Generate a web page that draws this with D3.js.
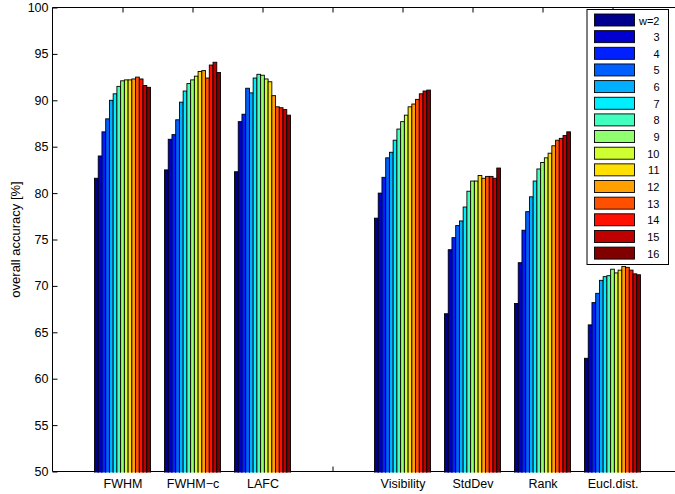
<!DOCTYPE html>
<html>
<head>
<meta charset="utf-8">
<script src="https://cdn.jsdelivr.net/npm/d3@7"></script>
<style>
  body { margin: 0; background: #fff; }
  svg { display: block; font-family: "Liberation Sans", Arial, Helvetica, sans-serif; }
</style>
</head>
<body>
<svg id="chart" width="675" height="494"></svg>
<script>
// Method groups along the x axis (the blank slot separates the two families)
const categories = ["FWHM", "FWHM\u2212c", "LAFC", "", "Visibility", "StdDev", "Rank", "Eucl.dist."];

// Window sizes w = 2 .. 16
const seriesNames = ["w=2", "3", "4", "5", "6", "7", "8", "9", "10", "11", "12", "13", "14", "15", "16"];

// Overall accuracy [%] per method, one value per window size
const fwhm       = [81.6, 84.0, 86.6, 88.0, 90.0, 90.7, 91.5, 92.1, 92.2, 92.2, 92.3, 92.5, 92.3, 91.6, 91.4];
const fwhmC      = [82.5, 85.8, 86.3, 87.9, 89.8, 91.0, 91.8, 92.2, 92.6, 93.1, 93.2, 92.4, 93.8, 94.1, 93.0];
const lafc       = [82.3, 87.7, 88.5, 91.3, 90.8, 92.4, 92.8, 92.7, 92.3, 92.0, 90.5, 89.3, 89.2, 89.0, 88.4];
const visibility = [77.3, 80.0, 81.7, 83.8, 84.4, 85.7, 86.9, 87.7, 88.4, 89.3, 89.6, 90.1, 90.7, 91.0, 91.1];
const stdDev     = [67.0, 73.9, 75.2, 76.5, 77.0, 78.5, 80.2, 81.3, 81.3, 81.9, 81.6, 81.8, 81.8, 81.6, 82.7];
const rank       = [68.1, 72.5, 76.0, 78.0, 79.6, 81.3, 82.6, 83.3, 83.8, 84.3, 85.1, 85.7, 85.9, 86.2, 86.6];
const euclDist   = [62.2, 65.8, 68.2, 69.2, 70.6, 71.0, 71.1, 71.8, 71.4, 71.7, 72.1, 72.0, 71.7, 71.3, 71.2];

const groupValues = [fwhm, fwhmC, lafc, null, visibility, stdDev, rank, euclDist];

const yTicks = [50, 55, 60, 65, 70, 75, 80, 85, 90, 95, 100];

// Colours sampled from the 64-entry jet map at evenly spaced indices
const barColors = [
  "rgb(0,0,143)", "rgb(0,0,207)", "rgb(0,32,255)", "rgb(0,96,255)", "rgb(0,175,255)",
  "rgb(0,239,255)", "rgb(64,255,191)", "rgb(143,255,112)", "rgb(207,255,48)", "rgb(255,223,0)",
  "rgb(255,159,0)", "rgb(255,80,0)", "rgb(255,16,0)", "rgb(191,0,0)", "rgb(128,0,0)"
];

const svg = d3.select("#chart");
const plotLeft = 52.5, plotTop = 7.5, plotBottom = 471.5;
const fontFamily = "'Liberation Sans', Arial, sans-serif";

// x runs over group positions 1..8 with limits [0, 9]; the right part falls outside the window
const x = d3.scaleLinear().domain([0, 9]).range([plotLeft, plotLeft + 9 * 70]);
const y = d3.scaleLinear().domain([50, 100]).range([plotBottom, plotTop]);

const groupWidth = 0.8;
const slot = d3.scaleBand()
  .domain(d3.range(seriesNames.length))
  .range([-groupWidth / 2, groupWidth / 2])
  .padding(0);

// Axis box (bars are painted over the baseline)
svg.append("line").attr("x1", plotLeft).attr("x2", 675).attr("y1", plotTop).attr("y2", plotTop)
  .attr("stroke", "#000").attr("stroke-width", 1);
svg.append("line").attr("x1", plotLeft).attr("x2", 675).attr("y1", plotBottom).attr("y2", plotBottom)
  .attr("stroke", "#000").attr("stroke-width", 1);
svg.append("line").attr("x1", plotLeft).attr("x2", plotLeft).attr("y1", plotTop).attr("y2", plotBottom)
  .attr("stroke", "#000").attr("stroke-width", 1);

// X axis ticks at group positions, bottom and top, both pointing inward
const xPositions = d3.range(1, categories.length + 1);
const xAxisB = d3.axisBottom(x).tickValues(xPositions)
  .tickFormat((d, i) => categories[i]).tickSizeInner(-5).tickSizeOuter(0).tickPadding(8);
const xb = svg.append("g").attr("transform", `translate(0,${plotBottom})`).call(xAxisB);
xb.select(".domain").remove();
xb.selectAll("text").attr("font-size", 12.5).attr("fill", "#000").attr("font-family", fontFamily);
xb.selectAll("line").attr("stroke", "#000");

const xAxisT = d3.axisTop(x).tickValues(xPositions).tickFormat("").tickSizeInner(-5).tickSizeOuter(0);
const xt = svg.append("g").attr("transform", `translate(0,${plotTop})`).call(xAxisT);
xt.select(".domain").remove();
xt.selectAll("line").attr("stroke", "#000");

// Bars
svg.append("clipPath").attr("id", "plotClip")
  .append("rect").attr("x", plotLeft).attr("y", plotTop)
  .attr("width", 700).attr("height", plotBottom + 1 - plotTop);

const barsLayer = svg.append("g").attr("clip-path", "url(#plotClip)");

groupValues.forEach((vals, gi) => {
  if (!vals) return;
  const gx = gi + 1;
  barsLayer.selectAll(null)
    .data(vals)
    .enter().append("rect")
    .attr("x", (d, i) => x(gx + slot(i)))
    .attr("width", (d, i) => x(gx + slot(i) + slot.bandwidth()) - x(gx + slot(i)))
    .attr("y", d => y(d))
    .attr("height", d => y(50) - y(d) + 3)
    .attr("fill", (d, i) => barColors[i])
    .attr("stroke", "#000")
    .attr("stroke-width", 0.9);
});

// Y axis ticks (inward) and labels
const yAxis = d3.axisLeft(y).tickValues(yTicks).tickSizeInner(-5).tickSizeOuter(0).tickPadding(4);
const yg = svg.append("g").attr("transform", `translate(${plotLeft},0)`).call(yAxis);
yg.select(".domain").remove();
yg.selectAll("text").attr("font-size", 12.5).attr("fill", "#000").attr("font-family", fontFamily);
yg.selectAll("line").attr("stroke", "#000");

// Y axis title
svg.append("text")
  .attr("transform", `translate(20,${(plotTop + plotBottom) / 2}) rotate(-90)`)
  .attr("text-anchor", "middle")
  .attr("font-size", 13)
  .attr("fill", "#000")
  .attr("font-family", fontFamily)
  .text("overall accuracy [%]");

// Legend
const lgX = 587, lgY = 9.5, lgW = 81.5, lgH = 255, rowH = 16.65;
const legend = svg.append("g");
legend.append("rect").attr("x", lgX).attr("y", lgY).attr("width", lgW).attr("height", lgH)
  .attr("fill", "#fff").attr("stroke", "#000").attr("stroke-width", 1);
const rows = legend.selectAll(".row").data(seriesNames).enter().append("g")
  .attr("transform", (d, i) => `translate(0,${lgY + 4.5 + i * rowH})`);
rows.append("rect")
  .attr("x", 594.5).attr("y", 0).attr("width", 40).attr("height", 12)
  .attr("fill", (d, i) => barColors[i]).attr("stroke", "#000").attr("stroke-width", 0.9);
rows.append("text")
  .attr("x", 659.5).attr("y", 10.5)
  .attr("text-anchor", "end")
  .attr("font-size", 11)
  .attr("fill", "#000")
  .attr("font-family", fontFamily)
  .text(d => d);
</script>
</body>
</html>
